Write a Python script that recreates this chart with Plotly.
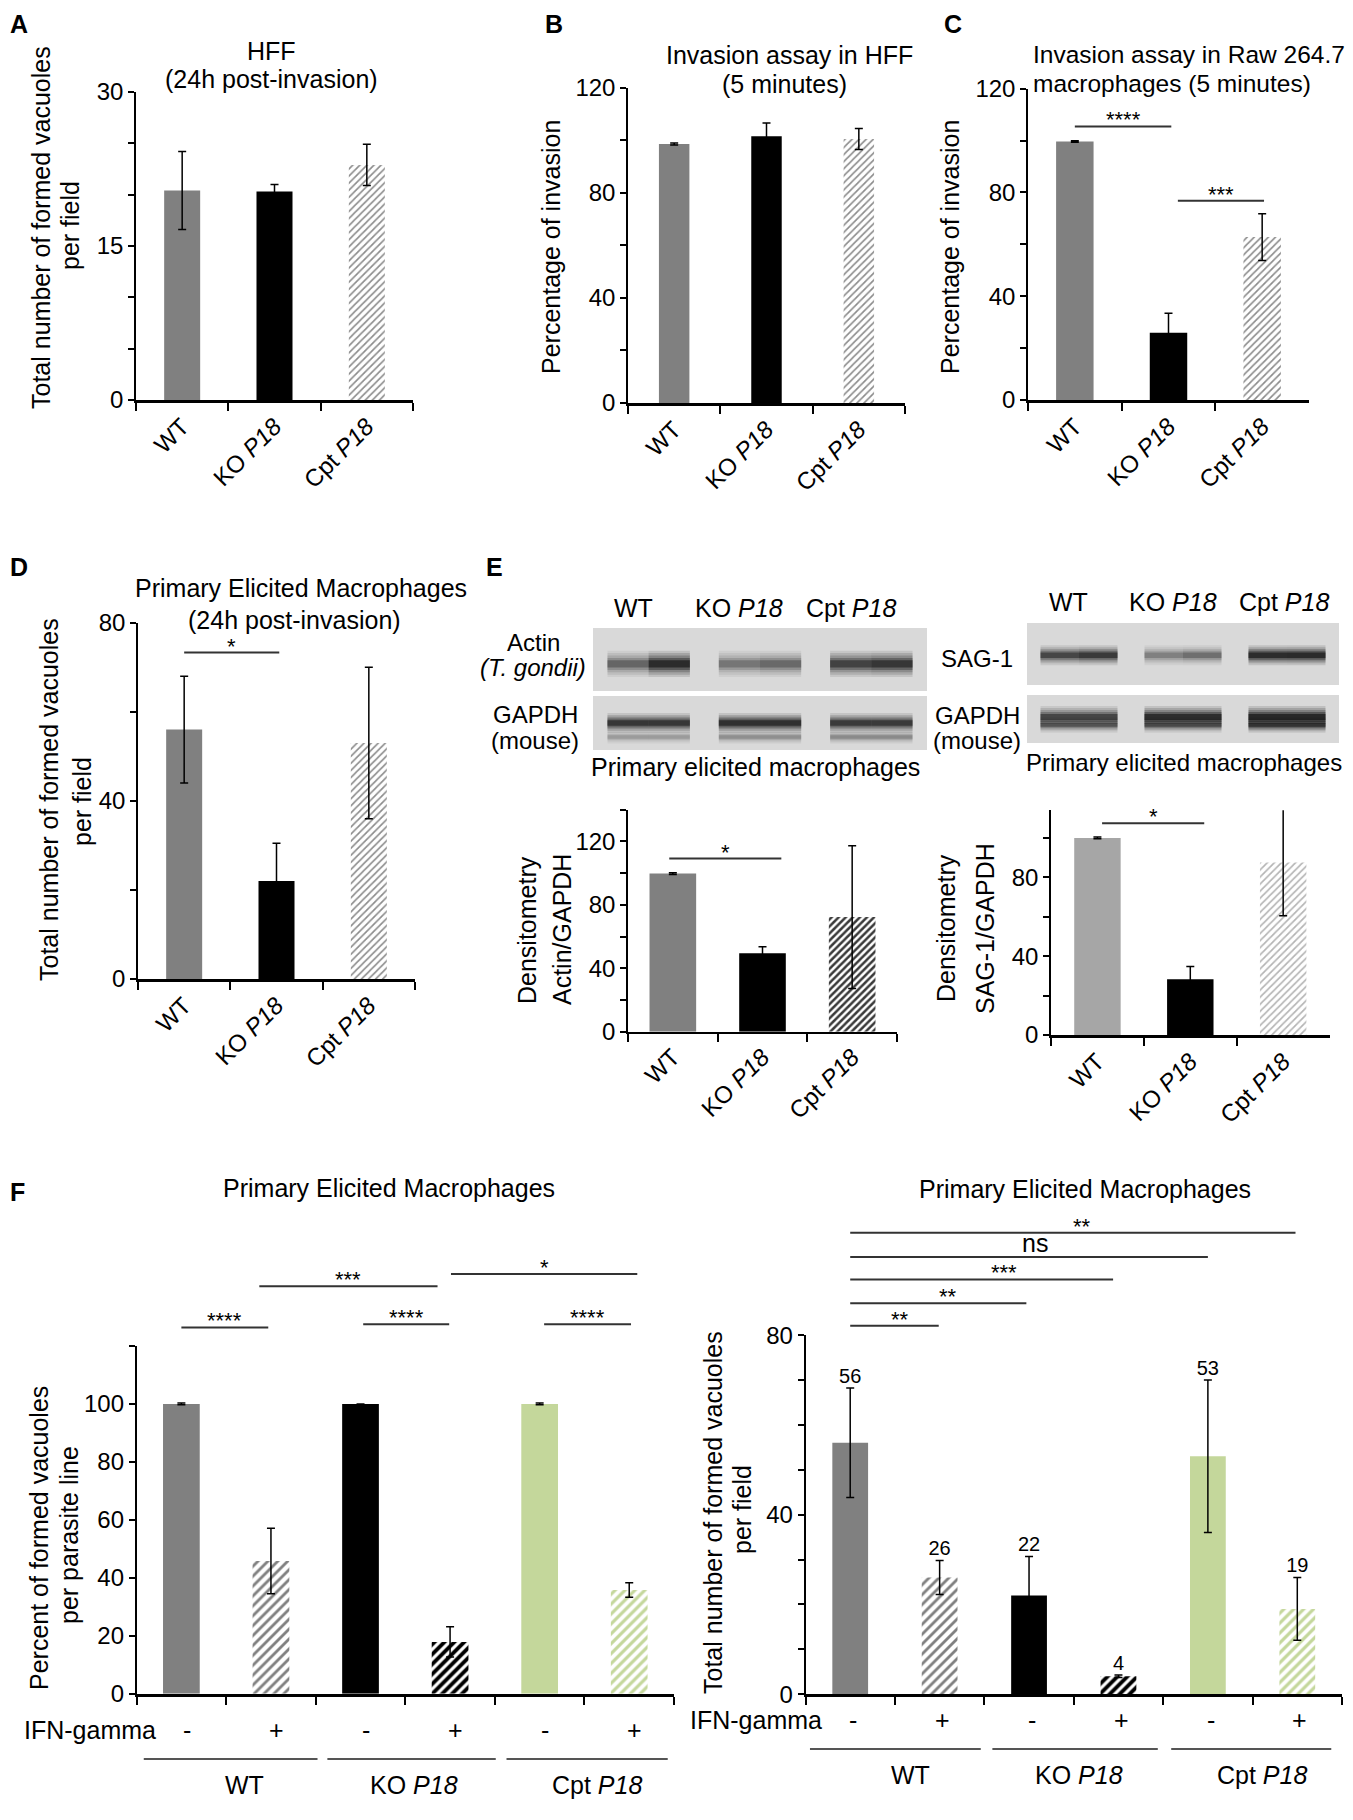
import plotly.graph_objects as go

W, H = 1353, 1820
OX, OY = 8, 8          # the page body margin moves the plot by 8 px
FONT = "Liberation Sans, Arial, Helvetica, sans-serif"
FS = 25

# ---------------- data ----------------
lines3 = ["WT", "KO <i>P18</i>", "Cpt <i>P18</i>"]
lines6 = ["WT -", "WT +", "KO -", "KO +", "Cpt -", "Cpt +"]
ifn_signs = ["-", "+", "-", "+", "-", "+"]
groups = ["WT", "KO <i>P18</i>", "Cpt <i>P18</i>"]

hff_24h = [20.4, 20.3, 22.9]
hff_24h_sd = [3.8, 0.7, 2.0]
hff_5min = [98.5, 101.5, 100.4]
hff_5min_sd = [0.4, 5.0, 4.0]
raw_5min = [99.6, 25.9, 62.8]
raw_5min_sd = [0.3, 7.5, 9.0]
pem_24h = [56, 22, 53]
pem_24h_sd = [12.0, 8.5, 17.0]
actin_dens = [99.7, 49.4, 72.3]
actin_dens_sd = [0.5, 4.2, 45.0]
sag_dens = [100.0, 28.3, 87.5]
sag_dens_sd = [0.4, 6.4, 27.0]
ifn_pct = [100, 45.8, 100, 17.9, 100, 35.8]
ifn_pct_sd = [0.3, 11.3, 0.0, 5.2, 0.3, 2.5]
ifn_count = [56, 26, 22, 4, 53, 19]
ifn_count_sd = [12.2, 3.8, 8.7, 0.3, 17.0, 7.0]

# significance bars: from, to (category index), height (axis units), label
sig_raw = ([0.0, 1.1], [1.03, 2.02], [105.4, 76.8], ["****", "***"])
sig_pem = ([0.0], [1.03], [73.3], ["*"])
sig_actin = ([-0.04], [1.21], [109.2], ["*"])
sig_sag = ([0.05], [1.15], [107.4], ["*"])
sig_ifn_pct = ([0.0, 2.03, 4.05, 0.87, 3.01], [0.97, 2.99, 5.02, 2.86, 5.09],
               [126.4, 127.5, 127.5, 140.6, 144.8], ["****", "****", "****", "***", "*"])
sig_ifn_count = ([0, 0, 0, 0, 0], [0.99, 1.97, 2.94, 4.0, 4.98],
                 [82.1, 87.1, 92.4, 97.4, 102.8], ["**", "**", "***", "ns", "**"])
sig_ifn_count_tx = [0.56, 1.09, 1.72, 2.07, 2.59]

# western blot band intensities (lane 1..3, left / right half of the band)
blot_lanes = [1, 2, 3]
actin_left = [0.50, 0.40, 0.75]
actin_right = [0.97, 0.48, 0.85]
gapdh_a_top = [0.85, 0.92, 0.82]
gapdh_a_low = [0.22, 0.28, 0.30]
sag_left = [0.72, 0.35, 0.95]
sag_right = [0.82, 0.45, 0.97]
gapdh_b_top = [0.72, 0.95, 1.0]
gapdh_b_low = [0.50, 0.55, 0.75]

GRAY = "#808080"
LGRAY = "#a6a6a6"
GREEN = "#c4d79b"

fig = go.Figure()
lay = {}
ann = []
shapes = []


def sfx(k):
    return "" if k == 1 else str(k)


def fx(x):
    return (x - OX) / W


def fy(y):
    return 1 - (y - OY) / H


def text(t, x, y, size=FS, **kw):
    d = dict(x=max(fx(x), 0), y=min(fy(y), 1), xref="paper", yref="paper", text=t,
             showarrow=False, xanchor="center", yanchor="middle",
             font=dict(size=size, color="black", family=FONT))
    d.update(kw)
    ann.append(d)


def panel(k, cats, vals, sds, fills, hatches, width, geom, step, labels,
          show_cats=True, hsize=5, hsol=0.33, xlw=3):
    x0, x1, ytop, ybot, ymax = geom
    s = sfx(k)
    n = len(cats)
    sol = hsol if isinstance(hsol, list) else [hsol] * n
    for i in range(n):
        if hatches[i]:
            mk = dict(color="white", line=dict(width=0),
                      pattern=dict(shape="/", fgcolor=hatches[i], bgcolor="white",
                                   size=hsize, solidity=sol[i]))
        else:
            mk = dict(color=fills[i], line=dict(width=0))
        fig.add_trace(go.Bar(
            x=[cats[i]], y=[vals[i]], width=width, xaxis="x" + s, yaxis="y" + s,
            marker=mk,
            error_y=dict(type="data", array=[sds[i]], color="black", thickness=1.5, width=4),
            showlegend=False, hoverinfo="skip"))
    lay["xaxis" + s] = dict(
        domain=[fx(x0), fx(x1)], anchor="y" + s, type="category",
        categoryorder="array", categoryarray=cats,
        range=[-0.5, n - 0.5], tickson="boundaries", ticks="outside", ticklen=8,
        tickwidth=1.5, tickcolor="black", showline=True, linewidth=xlw,
        linecolor="black", tickangle=-45, showticklabels=show_cats, automargin=False,
        tickfont=dict(size=24, color="black"), showgrid=False, zeroline=False)
    tv = list(range(0, int(ymax) + 1, step))
    lay["yaxis" + s] = dict(
        domain=[fy(ybot), fy(ytop)], anchor="x" + s, range=[0, ymax],
        tickmode="array", tickvals=tv, automargin=False,
        ticktext=[str(v) if v in labels else "" for v in tv],
        ticks="outside", ticklen=6, tickwidth=1.5, tickcolor="black",
        showline=True, linewidth=1.5, linecolor="black",
        tickfont=dict(size=24, color="black"), showgrid=False, zeroline=False)


def sig(k, main_geom, n, ext, sigdata, tx=None):
    x0, x1, ytop, ybot, ymax = main_geom
    s = sfx(k)
    per = (ybot - ytop) / ymax
    top = ybot - ext * per
    lay["xaxis" + s] = dict(domain=[fx(x0), fx(x1)], anchor="y" + s,
                            range=[-0.5, n - 0.5], visible=False, automargin=False)
    lay["yaxis" + s] = dict(domain=[fy(ybot), fy(top)], anchor="x" + s,
                            range=[0, ext], visible=False, automargin=False)
    a, b, hy, lab = sigdata
    xs, ys = [], []
    for i in range(len(a)):
        xs += [a[i], b[i], None]
        ys += [hy[i], hy[i], None]
    fig.add_trace(go.Scatter(x=xs, y=ys, mode="lines", xaxis="x" + s, yaxis="y" + s,
                             line=dict(color="#333333", width=2),
                             showlegend=False, hoverinfo="skip"))
    for i in range(len(a)):
        cx = tx[i] if tx else (a[i] + b[i]) / 2
        is_ns = lab[i] == "ns"
        ann.append(dict(x=cx, y=hy[i], xref="x" + s, yref="y" + s, text=lab[i],
                        showarrow=False, xanchor="center", yanchor="bottom",
                        yshift=-2 if is_ns else -8,
                        font=dict(size=FS if is_ns else 22, color="black", family=FONT)))


def blot(k, box, rows):
    bx0, bx1, by0, by1 = box
    s = sfx(k)
    lay["xaxis" + s] = dict(domain=[fx(bx0), fx(bx1)], anchor="y" + s,
                            range=[0.5, 3.5], visible=False, automargin=False)
    lay["yaxis" + s] = dict(domain=[fy(by1), fy(by0)], anchor="x" + s,
                            range=[0, 1], visible=False, automargin=False)
    shapes.append(dict(type="rect", xref="x%s domain" % s, yref="y%s domain" % s,
                       x0=0, x1=1, y0=0, y1=1, fillcolor="#d9d9d9",
                       line=dict(width=0), layer="below"))
    for left, right, yb, thick in rows:
        for lane, al, ar in zip(blot_lanes, left, right):
            for xa, xb, a in ((lane - 0.37, lane, al), (lane, lane + 0.37, ar)):
                for wm, am in ((2.2, 0.12), (1.8, 0.16), (1.4, 0.22), (1.0, 0.35), (0.6, 0.6)):
                    fig.add_trace(go.Scatter(
                        x=[xa, xb], y=[yb, yb], mode="lines",
                        xaxis="x" + s, yaxis="y" + s,
                        line=dict(color="rgba(10,10,10,%.3f)" % (a * am), width=thick * wm),
                        showlegend=False, hoverinfo="skip"))


# ---------------- geometry (page pixel positions of the plot areas) ----------------
gA = (136, 413, 92, 400, 30)
gB = (628, 905, 87.5, 403, 120)
gC = (1028, 1309, 88.6, 400, 120)
gD = (138, 415, 622.7, 979, 80)
gE1 = (628, 897, 809.7, 1031.7, 140)
gE2 = (1051, 1329.6, 810.3, 1035, 114)
gF1 = (136.6, 674, 1346, 1693.8, 120)
gF2 = (805.5, 1342, 1335.1, 1694.2, 80)

HG = "#8c8c8c"
panel(1, lines3, hff_24h, hff_24h_sd, [GRAY, "black", None], [None, None, HG], 0.39, gA, 5, {0, 15, 30})
panel(2, lines3, hff_5min, hff_5min_sd, [GRAY, "black", None], [None, None, HG], 0.33, gB, 20, {0, 40, 80, 120})
panel(3, lines3, raw_5min, raw_5min_sd, [GRAY, "black", None], [None, None, HG], 0.40, gC, 20, {0, 40, 80, 120})
panel(4, lines3, pem_24h, pem_24h_sd, [GRAY, "black", None], [None, None, HG], 0.39, gD, 20, {0, 40, 80})
panel(5, lines3, actin_dens, actin_dens_sd, [GRAY, "black", None], [None, None, "#3a3a3a"], 0.52, gE1, 20,
      {0, 40, 80, 120}, hsol=0.5, xlw=2)
panel(6, lines3, sag_dens, sag_dens_sd, [LGRAY, "black", None], [None, None, "#b4b4b4"], 0.50, gE2, 20, {0, 40, 80})
panel(7, lines6, ifn_pct, ifn_pct_sd, [GRAY, None, "black", None, GREEN, None],
      [None, GRAY, None, "black", None, GREEN], 0.41, gF1, 20, {0, 20, 40, 60, 80, 100},
      show_cats=False, hsize=7, hsol=[0, 0.4, 0, 0.55, 0, 0.45])
panel(8, lines6, ifn_count, ifn_count_sd, [GRAY, None, "black", None, GREEN, None],
      [None, GRAY, None, "black", None, GREEN], 0.40, gF2, 10, {0, 40, 80},
      show_cats=False, hsize=7, hsol=[0, 0.4, 0, 0.55, 0, 0.45])

# value labels above the bars of the right F chart
fig.add_trace(go.Scatter(
    x=lines6, y=[v + e for v, e in zip(ifn_count, ifn_count_sd)], mode="text",
    text=[str(v) for v in ifn_count], textposition="top center",
    textfont=dict(size=20, color="black", family=FONT), xaxis="x8", yaxis="y8",
    cliponaxis=False, showlegend=False, hoverinfo="skip"))

# western blots
blot(9, (593, 927, 628, 691), [(actin_left, actin_right, 0.43, 12)])
blot(10, (593, 927, 696, 750), [(gapdh_a_low, gapdh_a_low, 0.24, 6), (gapdh_a_top, gapdh_a_top, 0.5, 9)])
blot(11, (1027, 1339, 623, 685), [(sag_left, sag_right, 0.48, 9)])
blot(12, (1027, 1339, 695, 743), [(gapdh_b_low, gapdh_b_low, 0.375, 7), (gapdh_b_top, gapdh_b_top, 0.54, 10)])

# significance bars (overlay axes sharing each panel's scale)
sig(13, gC, 3, 120, sig_raw)
sig(14, gD, 3, 80, sig_pem)
sig(15, gE1, 3, 140, sig_actin)
sig(16, gE2, 3, 125, sig_sag)
sig(17, gF1, 6, 150, sig_ifn_pct)
sig(18, gF2, 6, 106, sig_ifn_count, tx=sig_ifn_count_tx)

# ---------------- text ----------------
for lab, x in (("A", 0), ("B", 543), ("C", 942)):
    text("<b>%s</b>" % lab, x, OY, size=25, xanchor="left", yanchor="top")
for lab, x, y in (("D", 0, 567), ("E", 484, 567), ("F", 0, 1192)):
    text("<b>%s</b>" % lab, x, y, size=25, xanchor="left")

text("HFF", 271, 51)
text("(24h post-invasion)", 271, 79)
text("Invasion assay in HFF", 789, 55)
text("(5 minutes)", 785, 84)
text("Invasion assay in Raw 264.7", 1031, 54, size=24.5, xanchor="left")
text("macrophages (5 minutes)", 1031, 84, size=24.5, xanchor="left")
text("Primary Elicited Macrophages", 301, 588)
text("(24h post-invasion)", 294, 620)
text("Primary Elicited Macrophages", 389, 1188)
text("Primary Elicited Macrophages", 1085, 1189)

# y-axis titles
text("Total number of formed vacuoles", 41, 228, textangle=-90)
text("per field", 70, 226, textangle=-90)
text("Percentage of invasion", 551, 247, textangle=-90)
text("Percentage of invasion", 950, 247, textangle=-90)
text("Total number of formed vacuoles", 49, 800, textangle=-90)
text("per field", 82, 802, textangle=-90)
text("Densitometry", 527, 930, textangle=-90)
text("Actin/GAPDH", 562, 930, textangle=-90)
text("Densitometry", 946, 928, textangle=-90)
text("SAG-1/GAPDH", 985, 928, textangle=-90)
text("Percent of formed vacuoles", 39, 1538, textangle=-90)
text("per parasite line", 69, 1535, textangle=-90)
text("Total number of formed vacuoles", 713, 1513, textangle=-90)
text("per field", 742, 1510, textangle=-90)

# blot labels
for lab, x in zip(lines3, (633, 739, 851)):
    text(lab, x, 608)
for lab, x in zip(lines3, (1068, 1173, 1284)):
    text(lab, x, 602)
text("Actin", 533, 642, size=24)
text("<i>(T. gondii)</i>", 533, 667, size=24)
text("GAPDH", 535, 715, size=24)
text("(mouse)", 535, 740, size=24)
text("Primary elicited macrophages", 755, 767)
text("SAG-1", 977, 658, size=24)
text("GAPDH", 977, 716, size=24)
text("(mouse)", 977, 740, size=24)
text("Primary elicited macrophages", 1184, 762, size=24)

# IFN-gamma rows and group labels under the F charts
text("IFN-gamma", 90, 1730)
text("IFN-gamma", 756, 1720)
for i, sgn in enumerate(ifn_signs):
    ann.append(dict(x=i + 0.06, y=fy(1730), xref="x7", yref="paper", text=sgn,
                    showarrow=False, xanchor="center", yanchor="middle",
                    font=dict(size=FS, color="black", family=FONT)))
    ann.append(dict(x=i + 0.03, y=fy(1720), xref="x8", yref="paper", text=sgn,
                    showarrow=False, xanchor="center", yanchor="middle",
                    font=dict(size=FS, color="black", family=FONT)))
for lab, x in zip(groups, (244, 414, 597)):
    text(lab, x, 1785)
for lab, x in zip(groups, (910, 1079, 1262)):
    text(lab, x, 1775)
for (a, b), ref, yy in (((-0.42, 1.52), "x7", 1759), ((1.63, 3.51), "x7", 1759),
                        ((3.63, 5.43), "x7", 1759), ((-0.45, 1.46), "x8", 1749),
                        ((1.59, 3.44), "x8", 1749), ((3.59, 5.38), "x8", 1749)):
    shapes.append(dict(type="line", xref=ref, yref="paper", x0=a, x1=b,
                       y0=fy(yy), y1=fy(yy), line=dict(color="#555555", width=2)))

fig.update_layout(
    template="none",
    width=W, height=H, margin=dict(l=0, r=0, t=0, b=0, pad=0),
    paper_bgcolor="white", plot_bgcolor="rgba(0,0,0,0)", barmode="overlay",
    font=dict(family=FONT, size=FS, color="black"),
    showlegend=False, annotations=ann, shapes=shapes, **lay)

fig.write_html("out.html")
